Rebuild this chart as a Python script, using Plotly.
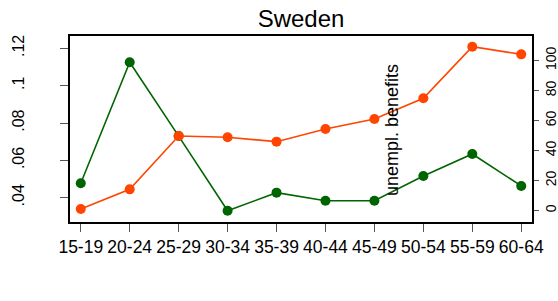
import plotly.graph_objects as go

age_groups = ["15-19", "20-24", "25-29", "30-34", "35-39",
              "40-44", "45-49", "50-54", "55-59", "60-64"]
green_left = [0.0477, 0.1125, 0.0730, 0.0330, 0.0427,
              0.0384, 0.0384, 0.0516, 0.0634, 0.0463]
orange_right = [1, 14.1, 49.7, 48.8, 45.9, 54.3, 61.0, 74.8, 109.2, 104.1]
left_ticks = [0.04, 0.06, 0.08, 0.10, 0.12]
left_ticktext = [".04", ".06", ".08", ".1", ".12"]
right_ticks = [0, 20, 40, 60, 80, 100]
right_ticktext = ["0", "20", "40", "60", "80", "100"]

FONT = "Liberation Sans, Arial, sans-serif"
GREEN = "#006400"
ORANGE = "#FF4500"

fig = go.Figure()
fig.add_trace(go.Scatter(
    x=age_groups, y=green_left, mode="lines+markers", yaxis="y",
    line=dict(color=GREEN, width=1.6), marker=dict(color=GREEN, size=10),
    showlegend=False))
fig.add_trace(go.Scatter(
    x=age_groups, y=orange_right, mode="lines+markers", yaxis="y2",
    line=dict(color=ORANGE, width=1.6), marker=dict(color=ORANGE, size=10),
    showlegend=False))

fig.update_layout(
    width=558, height=301,
    margin=dict(l=70, r=26, t=36, b=79, autoexpand=False),
    paper_bgcolor="white", plot_bgcolor="white",
    font=dict(family=FONT, size=16, color="black"),
    title=dict(text="Sweden", x=301/558, xanchor="center", xref="container",
               y=1 - 19/301, yanchor="middle", yref="container",
               font=dict(size=24, color="black", family=FONT)),
    xaxis=dict(type="category", range=[-0.22, 9.22], showgrid=False,
               zeroline=False, showline=True, linecolor="black", linewidth=1.5,
               mirror=True, ticks="outside", ticklen=8, tickcolor="#555",
               tickfont=dict(size=17.5), automargin=False),
    yaxis=dict(range=[0.02699, 0.12659], tickvals=left_ticks,
               ticktext=left_ticktext, tickangle=-90, showgrid=False,
               zeroline=False, showline=True, linecolor="black", linewidth=1.5,
               ticks="outside", ticklen=8, tickcolor="#555",
               ticklabelstandoff=30, tickfont=dict(size=16), automargin=False),
    yaxis2=dict(range=[-7.67, 116.33], tickvals=right_ticks,
                ticktext=right_ticktext, tickangle=-90, overlaying="y",
                side="right", showgrid=False, zeroline=False, showline=True,
                linecolor="black", linewidth=1.5, ticks="outside", ticklen=5,
                tickcolor="#555", ticklabelstandoff=0,
                tickfont=dict(size=14), automargin=False),
    annotations=[dict(text="unempl. benefits", xref="paper", yref="paper",
                      x=(392 - 70) / 462, y=(222 - 130) / 186,
                      xanchor="center", yanchor="middle", textangle=-90,
                      showarrow=False, font=dict(size=18, color="black"))],
)

fig.write_html("out.html", config={"displayModeBar": False})

with open("out.html", "r", encoding="utf-8") as f:
    html = f.read()
html = html.replace("<head>", "<head><style>html,body{margin:0;padding:0;overflow:hidden;}</style>", 1)
with open("out.html", "w", encoding="utf-8") as f:
    f.write(html)
